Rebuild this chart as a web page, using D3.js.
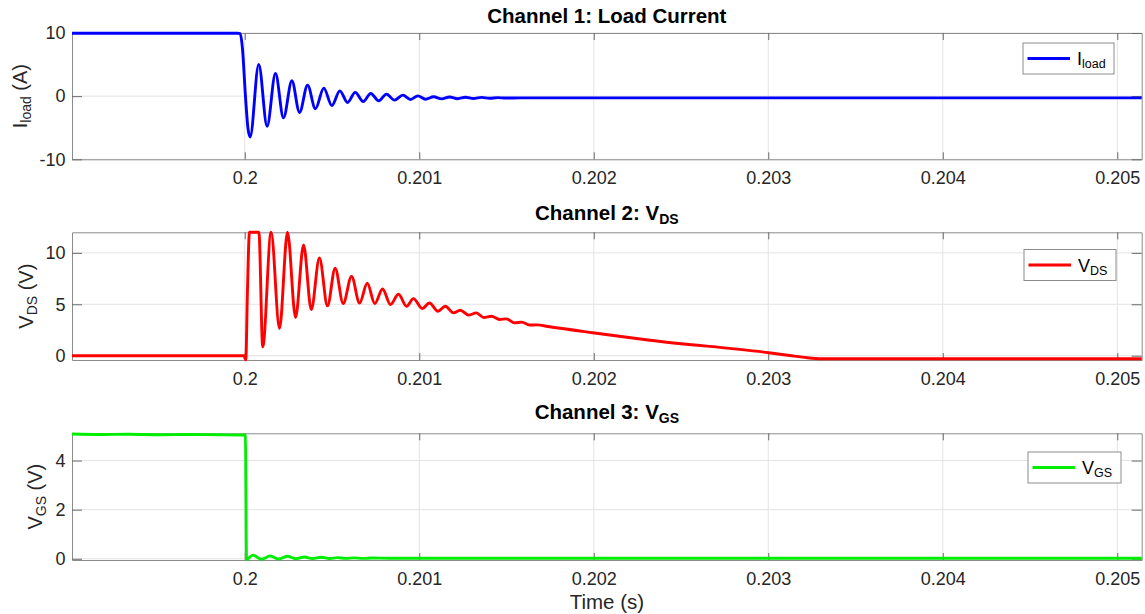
<!DOCTYPE html>
<html>
<head>
<meta charset="utf-8">
<script src="https://cdn.jsdelivr.net/npm/d3@7"></script>
<style>
  body { margin: 0; background: #fff; }
  svg { display: block; font-family: "Liberation Sans", Arial, Helvetica, sans-serif; }
</style>
</head>
<body>
<svg id="chart" width="1145" height="614"></svg>
<script>
// ---- Shared time axis (seconds) ----
const timeRange = [0.19901, 0.20514];
const timeTicks = [0.200, 0.201, 0.202, 0.203, 0.204, 0.205];
const timeTickLabels = ["0.2", "0.201", "0.202", "0.203", "0.204", "0.205"];

// ---- Channel 1: load current (A) ----
const iloadTime = [
  0.19901, 0.19996, 0.199974, 0.199987, 0.200004, 0.200018, 0.200031,
  0.200080, 0.200128, 0.200176, 0.200222, 0.200270, 0.200314, 0.200360,
  0.200405, 0.200453, 0.200499, 0.200545, 0.200589, 0.200633, 0.200679,
  0.200722, 0.200768, 0.200812, 0.200858, 0.200906, 0.200950, 0.200992,
  0.201036, 0.201082, 0.201128, 0.201174, 0.201220, 0.201265, 0.201311,
  0.201357, 0.201403, 0.201449, 0.201495, 0.201575, 0.20514
];
const iloadValue = [
  9.95, 9.95, 9.9, 7.5, 0.0, -5.0, -6.46,
  5.03, -4.76, 3.6, -3.44, 2.43, -2.59, 1.75,
  -2.0, 1.27, -1.48, 0.84, -1.0, 0.59, -0.84,
  0.43, -0.74, 0.32, -0.63, 0.16, -0.52, 0.05,
  -0.48, -0.1, -0.43, -0.14, -0.4, -0.17, -0.37,
  -0.2, -0.34, -0.23, -0.3, -0.27, -0.27
];
const iloadTicks = [-10, 0, 10];
const iloadRange = [-10, 10];

// ---- Channel 2: drain-source voltage (V) ----
const vdsTime = [
  0.19901, 0.199995, 0.200006, 0.200015, 0.200027, 0.200056, 0.200081,
  0.200103, 0.200151, 0.200199, 0.200245, 0.200291, 0.200337, 0.200381,
  0.200428, 0.200474, 0.200518, 0.200564, 0.200612, 0.200658, 0.200702,
  0.200745, 0.200790, 0.200835, 0.200881, 0.200927, 0.200967, 0.201017,
  0.201059, 0.201107, 0.201149, 0.201197, 0.201235, 0.201283, 0.201327,
  0.201370, 0.201413, 0.201460, 0.201499, 0.201546, 0.201587, 0.201632,
  0.201673, 0.201747, 0.201994, 0.202321, 0.203003, 0.203123, 0.203209,
  0.203307, 0.20514
];
const vdsValue = [
  0.0, 0.0, -0.4, 6.0, 12.0, 15.0, 12.0,
  0.87, 13.5, 2.65, 12.4, 3.71, 10.77, 4.49,
  9.5, 4.84, 8.51, 5.07, 7.71, 5.13, 7.06,
  5.07, 6.48, 4.97, 5.97, 4.81, 5.55, 4.58,
  5.13, 4.32, 4.81, 4.16, 4.42, 3.94, 4.16,
  3.71, 3.84, 3.52, 3.58, 3.19, 3.26, 2.98,
  3.0, 2.81, 2.23, 1.5, 0.29, 0.02, -0.17,
  -0.3, -0.3
];
const vdsTicks = [0, 5, 10];
const vdsRange = [-0.42, 12];

// ---- Channel 3: gate-source voltage (V) ----
const vgsTime = [
  0.19901, 0.19917, 0.19934, 0.19951, 0.19968, 0.19985, 0.199998,
  0.200004, 0.200010, 0.200046, 0.200094, 0.200146, 0.200193, 0.200247,
  0.200291, 0.200342, 0.200388, 0.200438, 0.200486, 0.200532, 0.200577,
  0.200629, 0.200675, 0.200726, 0.200830, 0.20514
];
const vgsValue = [
  5.08, 5.06, 5.07, 5.05, 5.06, 5.05, 5.04,
  5.02, -0.03, 0.15, -0.02, 0.11, -0.01, 0.10,
  0.0, 0.07, 0.01, 0.06, 0.01, 0.045, 0.015,
  0.035, 0.015, 0.03, 0.02, 0.02
];
const vgsTicks = [0, 2, 4];
const vgsRange = [-0.05, 5.11];

// ---- Layout ----
const plotLeft = 72, plotRight = 1141.7;
const fontTick = 18, fontLabel = 20, fontTitle = 20.5, fontLegend = 18, fontSub = 12.5;

const panels = [
  {
    top: 33, bottom: 159.3, time: iloadTime, value: iloadValue, ticks: iloadTicks, range: iloadRange,
    color: "#0000ff", title: [["Channel 1: Load Current"]], titleY: 23,
    ylabel: [["I"], ["load", 1], [" (A)"]], ylabelX: 27,
    legend: [["I"], ["load", 1]], legendX: 1023, legendY: 43, legendW: 91
  },
  {
    top: 232.3, bottom: 360, time: vdsTime, value: vdsValue, ticks: vdsTicks, range: vdsRange,
    color: "#ff0000", title: [["Channel 2: V"], ["DS", 1]], titleY: 220,
    ylabel: [["V"], ["DS", 1], [" (V)"]], ylabelX: 33,
    legend: [["V"], ["DS", 1]], legendX: 1024, legendY: 249.5, legendW: 92
  },
  {
    top: 433.3, bottom: 560, time: vgsTime, value: vgsValue, ticks: vgsTicks, range: vgsRange,
    color: "#00ee00", title: [["Channel 3: V"], ["GS", 1]], titleY: 419,
    ylabel: [["V"], ["GS", 1], [" (V)"]], ylabelX: 42,
    legend: [["V"], ["GS", 1]], legendX: 1028, legendY: 452, legendW: 93
  }
];

const svg = d3.select("#chart");
const x = d3.scaleLinear().domain(timeRange).range([plotLeft, plotRight]);

// Writes text made of plain and subscript runs into a <text> element.
function richText(textSel, parts, baseSize, subSize, shift) {
  let lowered = false;
  parts.forEach(([str, isSub]) => {
    const ts = textSel.append("tspan").text(str);
    if (isSub && !lowered) { ts.attr("dy", shift).attr("font-size", subSize); lowered = true; }
    else if (isSub) { ts.attr("font-size", subSize); }
    else if (lowered) { ts.attr("dy", -shift).attr("font-size", baseSize); lowered = false; }
    else { ts.attr("font-size", baseSize); }
  });
}

panels.forEach((p, i) => {
  // values beyond the axis limits are drawn along the limit
  const y = d3.scaleLinear().domain(p.range).range([p.bottom, p.top]).clamp(true);
  const g = svg.append("g");

  // grid
  g.append("g").selectAll("line").data(timeTicks).join("line")
    .attr("x1", d => x(d)).attr("x2", d => x(d))
    .attr("y1", p.top).attr("y2", p.bottom)
    .attr("stroke", "#e3e3e3").attr("stroke-width", 1);
  g.append("g").selectAll("line").data(p.ticks).join("line")
    .attr("x1", plotLeft).attr("x2", plotRight)
    .attr("y1", d => y(d)).attr("y2", d => y(d))
    .attr("stroke", "#e3e3e3").attr("stroke-width", 1);

  // data trace
  const line = d3.line()
    .x(d => x(d[0]))
    .y(d => y(d[1]))
    .curve(d3.curveMonotoneX);
  const pts = p.time.map((t, k) => [t, p.value[k]]);

  // axes: bottom/left with labels, top/right mirrored ticks only
  const axB = d3.axisBottom(x).tickValues(timeTicks)
    .tickFormat((d, k) => timeTickLabels[k]).tickSizeInner(-7).tickSizeOuter(0).tickPadding(12);
  const axT = d3.axisTop(x).tickValues(timeTicks).tickFormat("").tickSizeInner(-7).tickSizeOuter(0);
  const axL = d3.axisLeft(y).tickValues(p.ticks).tickFormat(d => String(d))
    .tickSizeInner(-10).tickSizeOuter(0).tickPadding(6.5);
  const axR = d3.axisRight(y).tickValues(p.ticks).tickFormat("").tickSizeInner(-10).tickSizeOuter(0);

  const styleAxis = sel => {
    sel.select(".domain").attr("stroke", "#8c8c8c").attr("stroke-width", 1);
    sel.selectAll(".tick line").attr("stroke", "#6a6a6a").attr("stroke-width", 1);
    sel.selectAll(".tick text").attr("fill", "#262626")
      .attr("font-size", fontTick).attr("font-family", "Liberation Sans, Arial, sans-serif");
  };
  g.append("g").attr("transform", `translate(0,${p.bottom})`).call(axB).call(styleAxis);
  g.append("g").attr("transform", `translate(0,${p.top})`).call(axT).call(styleAxis);
  g.append("g").attr("transform", `translate(${plotLeft},0)`).call(axL).call(styleAxis);
  g.append("g").attr("transform", `translate(${plotRight},0)`).call(axR).call(styleAxis);

  g.append("path")
    .datum(pts)
    .attr("d", line)
    .attr("fill", "none")
    .attr("stroke", p.color)
    .attr("stroke-width", 2.9)
    .attr("stroke-linejoin", "round");

  // title
  const title = g.append("text")
    .attr("x", (plotLeft + plotRight) / 2).attr("y", p.titleY)
    .attr("text-anchor", "middle").attr("font-weight", "bold").attr("fill", "#000");
  richText(title, p.title, fontTitle, 14, 4);

  // y label
  const yl = g.append("text")
    .attr("transform", `translate(${p.ylabelX},${(p.top + p.bottom) / 2}) rotate(-90)`)
    .attr("text-anchor", "middle").attr("fill", "#262626");
  richText(yl, p.ylabel, fontLabel, 14, 4);

  // legend
  const lg = g.append("g").attr("transform", `translate(${p.legendX},${p.legendY})`);
  lg.append("rect").attr("width", p.legendW).attr("height", 31)
    .attr("fill", "#fff").attr("stroke", "#8c8c8c").attr("stroke-width", 1);
  lg.append("line").attr("x1", 4.5).attr("x2", 47).attr("y1", 15.5).attr("y2", 15.5)
    .attr("stroke", p.color).attr("stroke-width", 2.9);
  const lt = lg.append("text").attr("x", 54).attr("y", 22).attr("fill", "#000");
  richText(lt, p.legend, fontLegend, fontSub, 3);
});

// shared x-axis label
svg.append("text")
  .attr("x", (plotLeft + plotRight) / 2).attr("y", 609)
  .attr("text-anchor", "middle").attr("fill", "#262626").attr("font-size", 20.5)
  .text("Time (s)");
</script>
</body>
</html>
